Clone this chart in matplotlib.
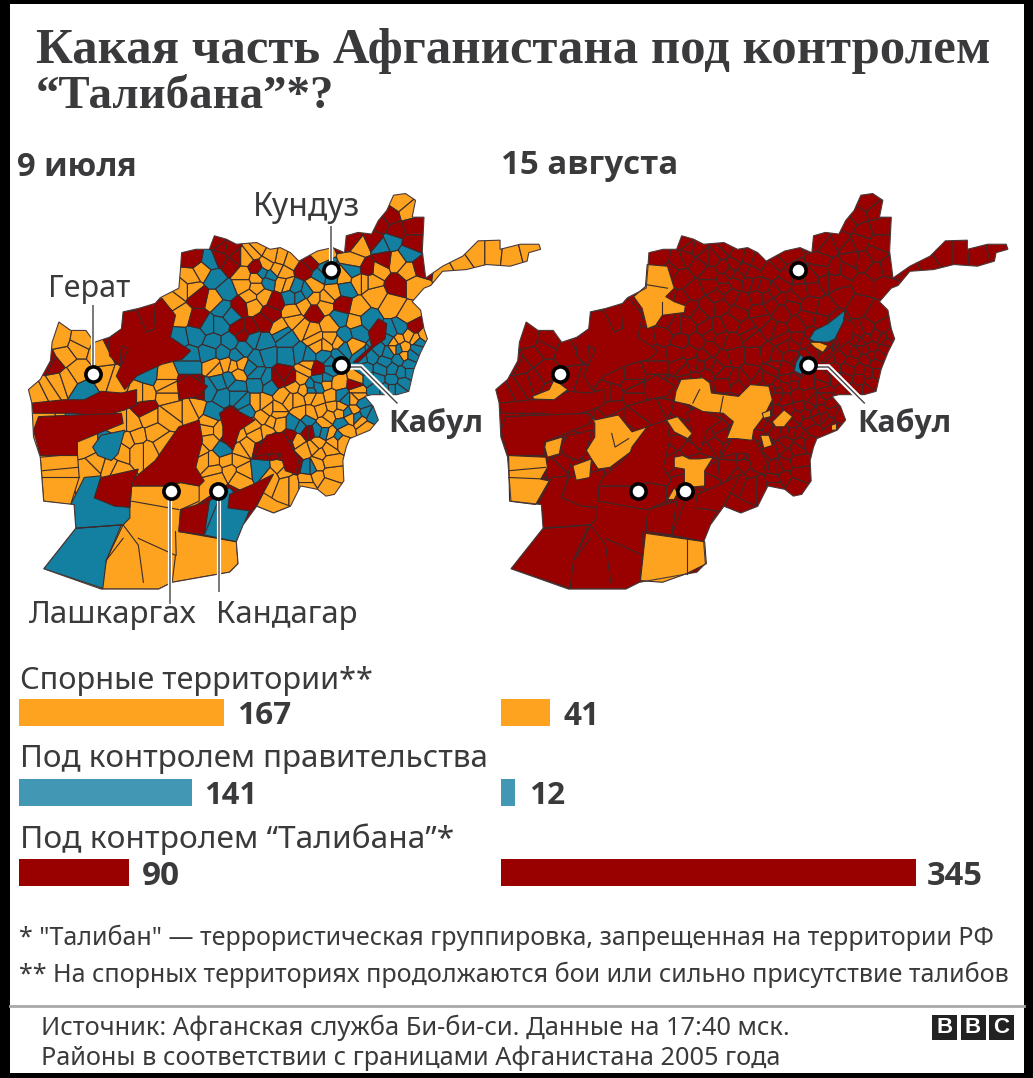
import numpy as np
import matplotlib
matplotlib.use("Agg")
import matplotlib.pyplot as plt
import matplotlib.tri as mtri
from matplotlib.patches import Polygon, Rectangle
from matplotlib.collections import PolyCollection

ORANGE, BLUE, RED = "#FDA31F", "#1380A1", "#990000"
BAR_BLUE = "#4297B5"
EDGE = "#3B2B2B"
TEXT = "#3A3A3C"
SANS = "Noto Sans"
SANS_BOLD = "Open Sans"

# ---- bar data
categories = ["Спорные территории**", "Под контролем правительства", "Под контролем “Талибана”*"]
july_values = [167, 141, 90]
august_values = [41, 12, 345]
bar_colors = [ORANGE, BAR_BLUE, RED]
date_labels = ["9 июля", "15 августа"]

# ---- map geometry
outline = [(25,620),(60,590),(90,535),(95,480),(115,420),(150,445),(195,445),(220,480),(265,465),(300,440),(305,390),(350,380),(400,365),(415,348),(470,320),(475,260),(478,215),(520,205),(560,205),(575,165),(610,175),(640,190),(700,185),(740,205),(770,200),(800,215),(825,240),(880,210),(925,200),(960,215),(965,165),(1000,155),(1040,160),(1060,120),(1085,90),(1105,45),(1140,40),(1170,60),(1160,110),(1195,110),(1190,210),(1200,290),(1250,255),(1310,225),(1355,180),(1420,178),(1420,205),(1480,190),(1535,190),(1540,205),(1505,215),(1500,240),(1450,255),(1380,250),(1320,265),(1250,270),(1215,312),(1195,320),(1160,360),(1185,385),(1195,440),(1205,470),(1185,510),(1165,560),(1150,625),(1115,635),(1040,635),(1020,640),(1045,670),(1060,710),(1035,740),(975,765),(965,790),(955,830),(958,890),(930,930),(905,935),(880,915),(830,905),(800,965),(750,985),(700,965),(660,1020),(640,1070),(645,1135),(620,1160),(450,1190),(410,1210),(240,1210),(70,1150),(165,1030),(160,960),(70,950),(60,820),(40,760),(35,660)]

seeds_orange = [(1125,65),(1150,95),(1005,200),(990,240),(1060,265),(1115,240),(1150,270),(1170,310),(1100,370),(1150,400),(1170,470),
 (1000,300),(1050,340),(1000,380),(925,330),(870,315),(900,370),(810,415),(990,420),(920,430),(860,450),(905,490),(985,490),
 (770,230),(730,250),(690,210),(660,280),(700,320),(775,305),(690,370),(575,355),(510,320),(450,360),(475,400),(505,290),
 (1105,500),(1135,495),(1195,460),(630,550),(580,555),(645,575),(365,630),(430,600),(440,640),(520,675),(435,700),(345,760),(400,750),
 (380,800),(300,800),(270,855),(210,850),(195,790),(110,850),(80,900),(130,520),(170,490),(110,600),(60,630),(170,570),(250,590),(240,510),
 (720,660),(795,650),(830,690),(860,640),(905,600),(940,600),(890,680),(925,670),(900,720),(950,670),(1000,620),(990,680),(1010,710),(745,715),
 (700,750),(670,790),(640,750),(555,740),(530,800),(570,830),(620,860),(580,880),(660,860),(645,830),(770,850),(800,900),(850,890),(880,880),(920,870),(910,800),
 (820,770),(870,790),(845,560),(840,620),(1000,590),(930,770),(960,740),(560,715),(760,690),(1025,730),
 (1260,272),(1300,250),(1350,215),(1400,215),(1450,220),(1510,205),
 (480,320),(540,270),(665,230),(700,200),(745,225),(800,240),(760,265),(880,225),(960,290),(1020,300),(1040,300),(700,290),(660,310),(680,345),(720,345),(780,275),(790,310),(840,370),(870,350),(905,350),(805,390),(770,440),
 (835,440),(870,470),(920,470),(880,490),(940,480),(575,550),(610,545),(655,545),(850,550),(830,590),(780,640),(820,650),(760,680),(810,610),(700,660),(735,680),
 (1120,470),(1150,460),(1105,480),(1135,520),(990,650),(1000,640),(975,700),(945,690),(920,640),(880,650),(860,690),(915,700),(920,750),(880,780),(890,810),(950,770),
 (560,770),(590,740),(545,830),(575,860),(610,830),(655,800),(690,730),(720,700),(765,720),(730,745),(780,860),(740,880),(650,880),(840,800),(880,840),(915,830),(850,900),(910,900),(790,900),
 (330,720),(380,700),(450,680),(510,680),(360,630),(430,580),(440,620),(350,800),(420,780),(320,770),(300,720),(220,840),(280,860),(120,470),(175,480),(80,620),(140,590),(280,600)]
seeds_blue = [(565,240),(575,290),(610,330),(735,300),(815,320),(825,345),(900,270),(985,268),(965,320),(1068,195),(1100,180),(1150,215),
 (945,410),(1030,415),(1000,450),(960,460),(1100,450),(940,520),(960,500),(590,430),(570,480),(520,460),(470,470),(660,500),(720,480),(700,530),(620,480),
 (790,470),(790,520),(850,520),(500,550),(380,575),(590,600),(640,610),(700,600),(740,605),(660,660),(600,640),(570,690),(860,610),(885,590),(920,560),(900,520),
 (1040,520),(1080,540),(1120,530),(1160,520),(1180,480),(1060,590),(1100,590),(1135,600),(1050,620),(1020,560),(1080,620),(1120,620),(1150,570),(1090,510),
 (950,640),(970,690),(1010,660),(1040,700),(950,720),(830,730),(900,745),(600,800),(860,850),(710,855),(265,790),(195,625),(920,285),
 (800,345),(850,330),(740,285),(715,275),(890,280),(600,380),(625,400),(555,430),(560,510),(600,510),(640,520),(500,520),(690,470),(730,520),(680,555),(830,515),(775,450),
 (620,590),(700,575),(730,590),(560,620),(640,640),(670,680),(880,610),(905,590),(920,540),(860,620),
 (1010,525),(1060,500),(1030,590),(1070,560),(1100,560),(1130,570),(1100,620),(1150,545),(1175,500),(1120,500),(1090,470),(1125,440),
 (960,650),(1020,690),(1000,700),(810,720),(850,710),(880,740),(940,760),(855,850)]
seeds_red = [(1095,110),(1070,130),(1110,150),(1160,135),(1160,190),(1185,260),(1050,180),(1075,235),(1115,310),(980,180),(1030,262),(1168,435),
 (860,245),(510,230),(600,200),(640,230),(625,250),(700,262),(530,345),(650,375),(755,360),(870,390),(955,370),(425,395),(530,415),(680,440),(780,575),
 (880,560),(510,610),(995,605),(630,700),(620,760),(800,760),(730,790),(780,810),(810,840),(850,745),(90,540),(280,490),(620,940),
 (590,230),(585,180),(620,205),(840,265),(650,440),(720,420),(740,395),(660,455),(800,590),(760,590),(500,600),(530,620),(370,680),(100,545),
 (715,800),(745,770),(790,780),(760,800),(810,830),(855,745)]

overlay_orange = [[(330,905),(430,905),(475,895),(530,905),(530,950),(475,975),(470,1040),(640,1070),(645,1135),(620,1160),(450,1190),(410,1210),(240,1210),(255,1125),(305,1020),(325,968)],
 [(700,965),(720,925),(760,950),(800,965),(750,985)],
 [(60,820),(170,810),(175,880),(150,960),(70,950)]]
overlay_blue = [[(70,1150),(165,1030),(300,1020),(255,1125),(245,1208)],
 [(150,960),(190,880),(240,875),(220,940),(325,970),(325,1000),(305,1020),(165,1030),(160,960)],
 [(560,950),(620,910),(680,975),(640,1070),(545,1050)],
 [(215,790),(240,755),(310,740),(290,810),(270,830),(230,815)]]
overlay_red = [[(220,940),(240,880),(350,855),(330,910),(325,968),(280,965)],
 [(475,975),(560,950),(545,1050),(470,1040)],
 [(615,970),(620,930),(690,900),(750,870),(720,925),(690,980)],
 [(340,880),(400,830),(470,730),(530,710),(540,770),(520,850),(545,890),(530,905),(475,895),(430,905),(330,905)],
 [(35,660),(130,650),(190,650),(240,625),(300,630),(345,620),(345,665),(310,680),(240,700),(160,690),(40,690)],
 [(40,740),(55,700),(165,695),(300,690),(305,720),(255,740),(170,775),(170,815),(60,815)],
 [(260,470),(300,440),(305,390),(345,385),(375,450),(400,440),(395,360),(420,350),(460,400),(445,465),(505,505),(480,530),(420,545),(345,580),(310,620),(285,580),(320,500),(300,490),(295,550),(265,520)],
 [(985,540),(1040,490),(1030,450),(1060,410),(1085,425),(1080,470),(1045,495),(1000,540)],
 [(590,690),(620,670),(695,710),(650,740),(630,800),(600,770),(600,730)],
 [(465,600),(500,575),(555,610),(530,640),(470,650)],
 [(690,820),(730,755),(780,745),(825,830),(815,870),(785,860),(770,810),(730,810)]]
overlay_south_lines = [[(305,1020),(350,1080),(365,1190)],[(305,1060),(255,1125)],[(350,1060),(460,1110),(450,1190)],[(330,950),(470,975)],[(165,1030),(300,1020)],
 [(65,860),(170,850)],[(65,880),(175,880)],[(460,1040),(462,1110)],[(545,1050),(590,940)]]

august_orange = [[(465,250),(525,255),(545,320),(520,345),(545,360),(578,372),(575,392),(510,400),(490,430),(465,440),(450,380),(425,345),(460,315)],
 [(125,640),(175,620),(190,590),(230,620),(190,650),(130,648)],
 [(55,815),(165,820),(170,850),(150,885),(175,890),(135,960),(58,950)],
 [(165,775),(215,760),(205,810),(170,820),(162,790)],
 [(295,690),(310,710),(380,695),(420,745),(465,730),(420,790),(415,805),(355,850),(320,855),(300,825),(285,800),(310,760),(310,720)],
 [(245,845),(300,825),(295,880),(255,888)],
 [(522,710),(555,700),(598,750),(585,765),(545,745)],
 [(565,590),(630,585),(650,600),(655,630),(735,640),(770,605),(825,610),(835,650),(810,700),(780,740),(775,770),(730,765),(700,765),(720,715),(690,690),(630,685),(590,665),(545,655),(550,625)],
 [(800,755),(825,755),(835,785),(810,793)],
 [(835,715),(870,680),(895,700),(870,730),(845,730)],
 [(805,690),(830,680),(830,700),(810,705)],
 [(545,820),(570,815),(590,825),(620,825),(660,820),(635,860),(635,905),(575,910),(575,855),(545,850)],
 [(525,945),(545,910),(555,925),(545,945)],
 [(945,480),(975,480),(1000,490),(985,510),(960,495)],
 [(1010,725),(1025,720),(1025,740),(1010,740)],
 [(460,1045),(635,1070),(640,1135),(580,1165),(510,1190),(445,1185)]]
august_blue = [[(945,470),(960,445),(1000,425),(1050,385),(1045,420),(1020,470),(1000,480),(960,478)],
 [(905,540),(920,515),(935,540),(920,575),(900,565)]]
august_lines = [[(55,860),(165,850)],[(55,880),(175,885)],[(582,1060),(582,1165)],[(620,620),(600,660)],[(690,640),(680,690)],[(360,750),(370,790),(410,765)],[(510,360),(510,400)],[(465,310),(525,320)]]

city_points = {"Кундуз":(331,270),"Герат":(93,374),"Лашкаргах":(171,491),"Кандагар":(218,491),"Кабул":(341,365)}
MAP_SHIFT = 467.3

# ---- helpers
def zx(x, ox): return x/2.958 + ox
def zy(y): return y/2.958 + 180
def conv(pts, ox=20): return [(zx(x, ox), zy(y)) for x, y in pts]

fig = plt.figure(figsize=(10.33, 10.78), dpi=100, facecolor="black")
ax = fig.add_axes([0, 0, 1, 1])
ax.set_xlim(0, 1033); ax.set_ylim(1078, 0); ax.axis("off")
ax.add_patch(Rectangle((10, 4), 1014, 1069, fc="white", ec="none", zorder=0))
renderer = fig.canvas.get_renderer()

def put(x0, x1, yc, s, fs=20, weight="normal", family=SANS, color=TEXT, z=20):
    t = ax.text(x0, yc, s, fontsize=fs, fontweight=weight, family=family, color=color, va="center_baseline", ha="left", zorder=z)
    w = t.get_window_extent(renderer).width
    t.set_fontsize(fs*(x1-x0)/w)
    return t

# Voronoi cells from the hand-placed district seeds
seen = {}
for lst, c in ((seeds_orange, ORANGE), (seeds_blue, BLUE), (seeds_red, RED)):
    for p in lst:
        seen[p] = c
sx = np.array([p[0] for p in seen], float)
sy = np.array([p[1] for p in seen], float)
cols = list(seen.values())
ang = np.deg2rad(np.arange(0, 360, 20))
gx = np.r_[sx, 800 + 2500*np.cos(ang)]
gy = np.r_[sy, 600 + 2500*np.sin(ang)]
tri = mtri.Triangulation(gx, gy)
def circum(t):
    a, b, c = [np.array([gx[i], gy[i]]) for i in t]
    d = 2*(a[0]*(b[1]-c[1]) + b[0]*(c[1]-a[1]) + c[0]*(a[1]-b[1]))
    ux = ((a@a)*(b[1]-c[1]) + (b@b)*(c[1]-a[1]) + (c@c)*(a[1]-b[1]))/d
    uy = ((a@a)*(c[0]-b[0]) + (b@b)*(a[0]-c[0]) + (c@c)*(b[0]-a[0]))/d
    return np.array([ux, uy])
cc = np.array([circum(t) for t in tri.triangles])
cells = []
for i in range(len(sx)):
    idx = np.where((tri.triangles == i).any(axis=1))[0]
    pts = cc[idx]
    order = np.argsort(np.arctan2(pts[:,1]-sy[i], pts[:,0]-sx[i]))
    cells.append(pts[order])

def draw_map(ox, aug=False):
    clip = Polygon(conv(outline, ox), closed=True, fc="none", ec="none", transform=ax.transData)
    ax.add_patch(clip)
    polys = [np.c_[c[:,0]/2.958+ox, c[:,1]/2.958+180] for c in cells]
    pc = PolyCollection(polys, facecolors=[RED if aug else c for c in cols], edgecolors=EDGE, linewidths=0.8, zorder=2)
    ax.add_collection(pc); pc.set_clip_path(clip)
    def over(polylist, col, off=0):
        for p in polylist:
            pp = ax.add_patch(Polygon(conv(p, ox+off), closed=True, fc=col, ec=EDGE, lw=0.8, zorder=3))
            pp.set_clip_path(clip)
    groups = [(overlay_orange, ORANGE), (overlay_blue, BLUE), (overlay_red, RED)]
    for g, c in groups:
        over(g, RED if aug else c)
    for l in overlay_south_lines:
        q = np.array(conv(l, ox))
        ln, = ax.plot(q[:,0], q[:,1], color=EDGE, lw=0.8, zorder=4); ln.set_clip_path(clip)
    if aug:
        # the August panel was traced in its own crop, whose left edge is x=490
        base = 490
        for p in august_orange:
            ax.add_patch(Polygon(conv(p, base), closed=True, fc=ORANGE, ec=EDGE, lw=0.8, zorder=5))
        for p in august_blue:
            ax.add_patch(Polygon(conv(p, base), closed=True, fc=BLUE, ec=EDGE, lw=0.8, zorder=5))
        for l in august_lines:
            q = np.array(conv(l, base))
            ax.plot(q[:,0], q[:,1], color=EDGE, lw=0.8, zorder=6)
    ax.add_patch(Polygon(conv(outline, ox), closed=True, fc="none", ec="#4a3a3a", lw=0.8, zorder=7))

draw_map(20)
draw_map(20+MAP_SHIFT, aug=True)

# leaders
leaders = [[(93,305),(93,372)], [(331,226),(331,268)], [(170,490),(170,604)], [(218.5,490),(218.5,592)]]
for l in leaders:
    q = np.array(l)
    ax.plot(q[:,0], q[:,1], color="white", lw=3, zorder=8, solid_capstyle="butt")
    ax.plot(q[:,0], q[:,1], color="#555555", lw=1.1, zorder=9, solid_capstyle="butt")
for dx in (0, MAP_SHIFT):
    q = np.array([(341,367),(361,367),(397,403)]) + [dx, 0]
    ax.plot(q[:,0], q[:,1], color="white", lw=4, zorder=8, solid_joinstyle="miter")
    ax.plot(q[:,0], q[:,1], color="#444444", lw=1.0, zorder=9, solid_joinstyle="miter")

# city dots
px = np.array([p[0] for p in city_points.values()])
py = np.array([p[1] for p in city_points.values()])
for dx in (0, MAP_SHIFT):
    ax.scatter(px+dx, py, s=120, c="white", edgecolors="black", linewidths=2.6, zorder=10)

# titles
SERIF = "Liberation Serif"
put(36, 990, 46, "Какая часть Афганистана под контролем", 34, "bold", SERIF)
put(36, 335, 92, "“Талибана”*?", 34, "bold", SERIF)
put(17, 137, 163, date_labels[0], 20, "bold", SANS_BOLD)
put(501, 678, 162, date_labels[1], 20, "bold", SANS_BOLD)

# city labels
put(253, 360, 204, "Кундуз", 20)
put(48, 130, 285, "Герат", 20)
put(388, 483, 420, "Кабул", 20, "bold", SANS_BOLD)
put(857, 951, 420, "Кабул", 20, "bold", SANS_BOLD)
put(29, 197, 611, "Лашкаргах", 20)
put(216, 358, 611, "Кандагар", 20)

# bars
def bar_axes(x0, width, vmax):
    a = fig.add_axes([x0/1033, 0, width/1033, 1])
    a.set_xlim(0, vmax); a.set_ylim(1078, 0); a.axis("off"); a.patch.set_alpha(0)
    return a
bar_y = [712.5, 792.5, 872.5]
axL = bar_axes(19, 205, july_values[0])
axR = bar_axes(501, 415, august_values[2])
axL.barh(bar_y, july_values, height=27, color=bar_colors)
axR.barh(bar_y, august_values, height=27, color=bar_colors)

label_y = [677, 756, 836]
label_r = [372, 490, 453]
for s, yy, r in zip(categories, label_y, label_r):
    put(20, r, yy, s, 20)
for v, yy, x0, x1 in zip(july_values, bar_y, [237, 204, 142], [291, 257, 180]):
    put(x0, x1, yy, str(v), 20, "bold", SANS_BOLD)
for v, yy, x0, x1 in zip(august_values, bar_y, [563, 529, 927], [599, 565, 983]):
    put(x0, x1, yy, str(v), 20, "bold", SANS_BOLD)

# notes
put(19, 993, 935, "* \"Талибан\" — террористическая группировка, запрещенная на территории РФ", 15)
put(19, 1008, 972, "** На спорных территориях продолжаются бои или сильно присутствие талибов", 15)
ax.plot([10, 1024], [1006, 1006], color="#A8A8A8", lw=2, zorder=5)
put(41, 790, 1025, "Источник: Афганская служба Би-би-си. Данные на 17:40 мск.", 15)
put(41, 780, 1055, "Районы в соответствии с границами Афганистана 2005 года", 15)

# logo
for x0, ch in zip([932, 960.5, 989], "BBC"):
    ax.add_patch(Rectangle((x0, 1015), 25, 24.5, fc="#222222", ec="none", zorder=20))
    ax.text(x0+12.5, 1027.5, ch, color="white", fontsize=16, fontweight="bold", family="Liberation Sans", ha="center", va="center", zorder=21)

fig.savefig("out.png", dpi=100, facecolor="black")
